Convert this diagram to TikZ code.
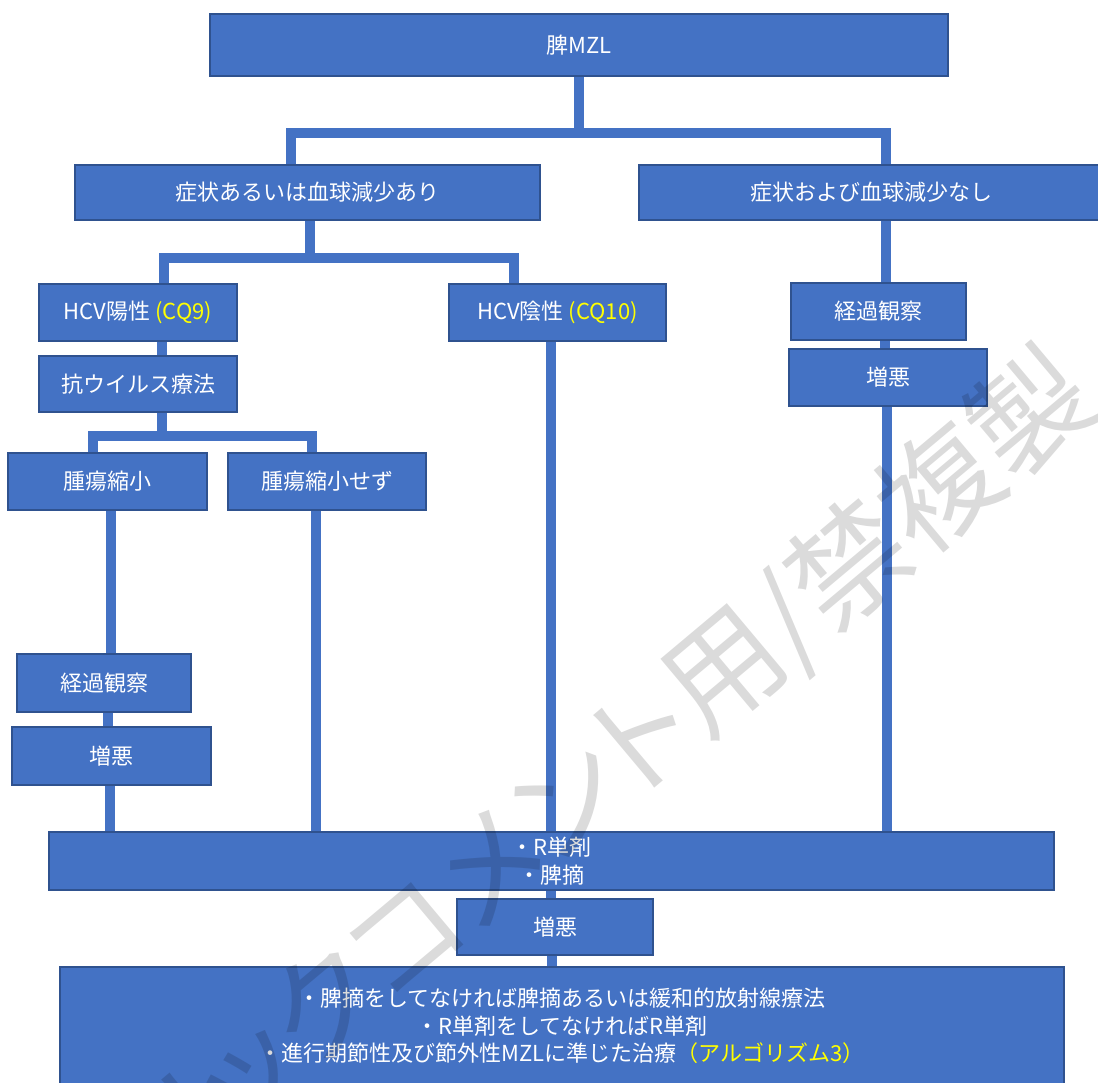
\documentclass[tikz,border=0pt]{standalone}
\usepackage{fontspec}
\newfontfamily\jp{Noto Sans CJK JP}
\newfontfamily\wmjp[RawFeature=+palt]{Noto Sans CJK JP}
\usetikzlibrary{backgrounds}
\definecolor{boxblue}{HTML}{4472C4}
\definecolor{boxedge}{HTML}{2F528F}
\definecolor{cqyellow}{HTML}{FFFF00}
\tikzset{
  box/.style={draw=boxedge, line width=1.6pt, fill=boxblue, text=white, inner sep=0pt,
    align=center, font=\jp\fontsize{22}{27.5}\selectfont},
  conn/.style={draw=boxblue, line width=10pt},
  wmark/.style={rotate=40, anchor=east, inner sep=0pt, text=black, text opacity=0.14,
    font=\wmjp\fontsize{118}{118}\selectfont},
}
\begin{document}
\begin{tikzpicture}[x=1pt,y=-1pt]
\useasboundingbox (0,0) rectangle (1098,1083);
% boxes
\node[box, minimum width=738, minimum height=62] (top) at (579,45) {脾MZL};
\node[box, minimum width=465, minimum height=55] (a) at (307.5,192.5) {症状あるいは血球減少あり};
\node[box, minimum width=464, minimum height=55] (b) at (871,192.5) {症状および血球減少なし};
\node[box, minimum width=198, minimum height=57] (hp) at (138,312.5) {HCV陽性 \textcolor{cqyellow}{(CQ9)}};
\node[box, minimum width=217, minimum height=57] (hn) at (557.5,312.5) {HCV陰性 \textcolor{cqyellow}{(CQ10)}};
\node[box, minimum width=198, minimum height=56] (av) at (138,384) {抗ウイルス療法};
\node[box, minimum width=199, minimum height=57] (ts) at (107.5,481.5) {腫瘍縮小};
\node[box, minimum width=198, minimum height=57] (tn) at (327,481.5) {腫瘍縮小せず};
\node[box, minimum width=174, minimum height=58] (ol) at (104,683) {経過観察};
\node[box, minimum width=199, minimum height=58] (wl) at (111.5,756) {増悪};
\node[box, minimum width=175, minimum height=57] (or) at (878.5,311.5) {経過観察};
\node[box, minimum width=198, minimum height=57] (wr) at (888,377.5) {増悪};
\node[box, minimum width=1005, minimum height=58] (rb) at (551.5,861) {・R単剤\\・脾摘};
\node[box, minimum width=196, minimum height=56] (wb) at (555,927) {増悪};
\node[box, minimum width=1004, minimum height=118] (fin) at (562,1026)
  {・脾摘をしてなければ脾摘あるいは緩和的放射線療法\\・R単剤をしてなければR単剤\\・進行期節性及び節外性MZLに準じた治療\textcolor{cqyellow}{（アルゴリズム3）}};
% connectors
\begin{scope}[on background layer]
\coordinate (j1) at (579,133);
\draw[conn] (top.south) -- (j1);
\draw[conn] ([xshift=-16.5]a.north) |- (j1) -| ([xshift=15]b.north);
\coordinate (j2) at (310,258);
\draw[conn] ([xshift=2.5]a.south) -- (j2);
\draw[conn] ([xshift=26]hp.north) |- (j2) -| ([xshift=-43.5]hn.north);
\draw[conn] ([xshift=24]hp.south) -- ([xshift=24]av.north);
\coordinate (j3) at (162,436);
\draw[conn] ([xshift=24]av.south) -- (j3);
\draw[conn] ([xshift=-14.5]ts.north) |- (j3) -| ([xshift=-15]tn.north);
\draw[conn] ([xshift=3.5]ts.south) -- ([xshift=7]ol.north);
\draw[conn] ([xshift=4]ol.south) -- ([xshift=-3.5]wl.north);
\coordinate (wlS) at ([xshift=-1.5]wl.south);
\draw[conn] (wlS) -- (wlS |- rb.north);
\coordinate (tnS) at ([xshift=-11]tn.south);
\draw[conn] (tnS) -- (tnS |- rb.north);
\coordinate (hnS) at ([xshift=-6.5]hn.south);
\draw[conn] (hnS) -- (hnS |- rb.north);
\coordinate (bS) at ([xshift=15]b.south);
\draw[conn] (bS) -- (bS |- or.north);
\draw[conn] ([xshift=6.5]or.south) -- ([xshift=-3]wr.north);
\coordinate (wrS) at ([xshift=-1]wr.south);
\draw[conn] (wrS) -- (wrS |- rb.north);
\draw[conn] ([xshift=-0.5]rb.south) -- ([xshift=-4]wb.north);
\draw[conn] ([xshift=-3]wb.south) -- ([xshift=-10]fin.north);
\end{scope}
% watermark
\node[wmark] (wm) at (1077,377) {パブリックコメント用/禁複製};
\end{tikzpicture}
\end{document}
